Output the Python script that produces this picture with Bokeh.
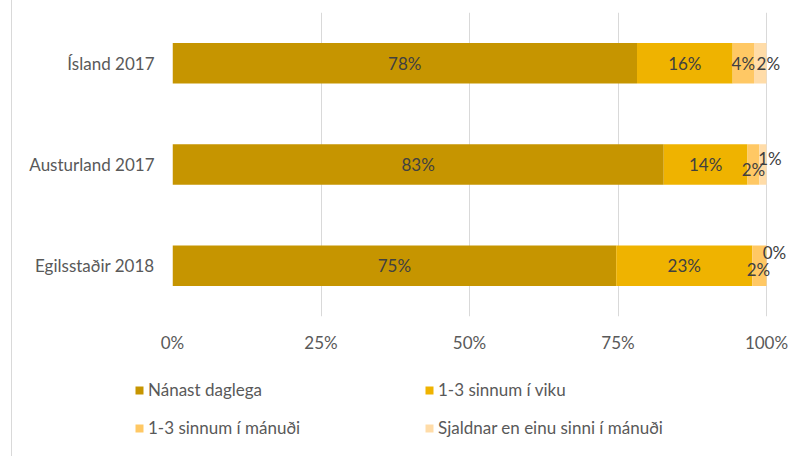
from bokeh.plotting import figure
from bokeh.models import (ColumnDataSource, FactorRange, FixedTicker, PrintfTickFormatter,
                          Legend, LegendItem, LabelSet, Range1d, InlineStyleSheet)
from bokeh.core.properties import value
from bokeh.embed import file_html
from bokeh.resources import INLINE

# ---- data ----
categories = ["Ísland 2017", "Austurland 2017", "Egilsstaðir 2018"]
series_names = ["Nánast daglega", "1-3 sinnum í viku", "1-3 sinnum í mánuði",
                "Sjaldnar en einu sinni í mánuði"]
nanast_daglega = [78.2, 82.7, 74.7]
sinnum_viku = [16.1, 14.1, 22.9]
sinnum_manudi = [3.6, 2.0, 2.4]
sjaldnar = [2.1, 1.2, 0.0]
tick_values = [0, 25, 50, 75, 100]

# ---- styles ----
colors = ["#C69500", "#EFB300", "#FFC864", "#FFDCA8"]
FONT = "Lato"
FS = "17px"
label_color = "#404040"
axis_color = "#595959"
# pixel nudges of the crowded data labels (per series, per category)
label_dx = [[0, 0, 0], [0, 0, 0], [0, 0, -1], [8, 7, 8]]
label_dy = [[0, 0, 0], [0, 0, 0], [0, -5, -4], [0, 6, 13]]

# thin grey left frame line of the whole chart, drawn from the legend strip upwards
border_css = """:host { position: relative; display: block; overflow: visible; }
:host::after { content: ""; position: absolute;
  left: 11px; top: -355px; width: 1px; height: 456px; background: #D9D9D9;
  z-index: 10; pointer-events: none; }"""

keys = ["s0", "s1", "s2", "s3"]
series = [nanast_daglega, sinnum_viku, sinnum_manudi, sjaldnar]
data = {"cat": categories}
for k, s in zip(keys, series):
    data[k] = s
source = ColumnDataSource(data)

# ---------------- main chart ----------------
p = figure(width=807, height=355, output_backend="svg", toolbar_location=None,
           y_range=FactorRange(*categories[::-1], range_padding=0),
           x_range=Range1d(0, 100 * 618 / 594),
           min_border_left=172, min_border_right=17, min_border_top=12, min_border_bottom=38)
p.outline_line_color = None
p.background_fill_color = "white"
p.border_fill_color = "white"

p.hbar_stack(keys, y="cat", height=0.4, color=colors, source=source, line_color=None)

# data labels
lx, ly, lt, ldx, ldy = [], [], [], [], []
for ci, cat in enumerate(categories):
    start = 0.0
    for si, s in enumerate(series):
        v = s[ci]
        lx.append(start + v / 2.0)
        ly.append(cat)
        lt.append(f"{v:.0f}%")
        ldx.append(label_dx[si][ci])
        ldy.append(label_dy[si][ci])
        start += v
lsrc = ColumnDataSource(dict(x=lx, y=ly, t=lt, dx=ldx, dy=ldy))
labels = LabelSet(x="x", y="y", text="t", x_offset="dx", y_offset="dy", source=lsrc,
                  text_align="center", text_baseline="middle",
                  text_font=value(FONT), text_font_size=FS, text_color=label_color)
p.add_layout(labels)

# axes
p.xaxis.ticker = FixedTicker(ticks=tick_values)
p.xaxis.formatter = PrintfTickFormatter(format="%d%%")
for ax in (p.xaxis, p.yaxis):
    ax.axis_line_color = None
    ax.major_tick_line_color = None
    ax.minor_tick_line_color = None
    ax.major_tick_out = 0
    ax.major_tick_in = 0
    ax.major_label_text_font = FONT
    ax.major_label_text_font_size = FS
    ax.major_label_text_color = axis_color
p.xaxis.major_label_standoff = 15
p.yaxis.major_label_standoff = 18
p.xgrid.grid_line_color = "#D9D9D9"
p.xgrid.grid_line_width = 1
p.ygrid.grid_line_color = None

# ---------------- legend strip ----------------
q = figure(width=807, height=101, output_backend="svg", toolbar_location=None,
           x_axis_location=None, y_axis_location=None,
           x_range=Range1d(0, 1), y_range=Range1d(0, 1), min_border=0)
q.outline_line_color = None
q.xgrid.grid_line_color = None
q.ygrid.grid_line_color = None
q.border_fill_color = "white"
q.background_fill_color = "white"
# swatch renderers for the legend (kept outside the visible range)
legend_renderers = [q.quad(left=[5], right=[6], top=[6], bottom=[5], fill_color=c,
                           line_color=None) for c in colors]
positions = [(134, 56), (424, 56), (134, 18), (424, 18)]
for r, name, pos in zip(legend_renderers, series_names, positions):
    lg = Legend(items=[LegendItem(label=name, renderers=[r])], location=pos,
                padding=0, margin=0, spacing=0, border_line_color=None,
                background_fill_alpha=0, glyph_width=10, glyph_height=10,
                label_standoff=4, label_text_font=FONT, label_text_font_size=FS,
                label_text_color=axis_color, label_height=20)
    q.add_layout(lg)
q.stylesheets = [InlineStyleSheet(css=border_css)]

open("out.html", "w").write(file_html([p, q], INLINE))
